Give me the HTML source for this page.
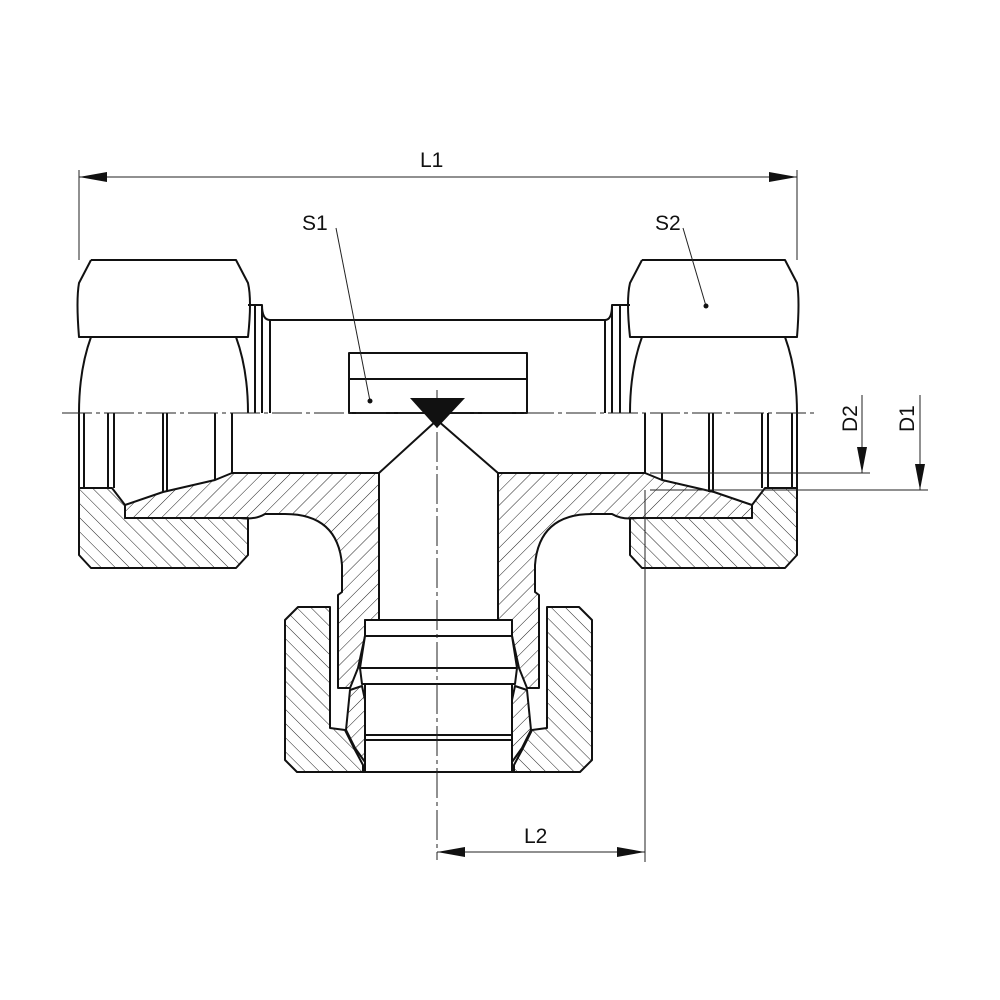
<!DOCTYPE html>
<html><head><meta charset="utf-8"><style>
html,body{margin:0;padding:0;background:#fff}
svg{display:block}
text{font-family:"Liberation Sans",sans-serif;font-size:21px;fill:#111}
</style></head><body>
<svg width="1000" height="1000" viewBox="0 0 1000 1000" xmlns="http://www.w3.org/2000/svg">
<defs>
<pattern id="hA" patternUnits="userSpaceOnUse" width="10" height="10" patternTransform="rotate(45)">
<line x1="0" y1="0" x2="0" y2="10" stroke="#222" stroke-width="1"/></pattern>
<pattern id="hB" patternUnits="userSpaceOnUse" width="10" height="10" patternTransform="rotate(-45)">
<line x1="0" y1="0" x2="0" y2="10" stroke="#222" stroke-width="1"/></pattern>
</defs>
<g fill="none" stroke="#111" stroke-width="2" stroke-linejoin="round">
<!-- body upper -->
<path d="M270 320 L605 320 M605 320 Q612 320 612 305 L630 305 M270 320 Q262 320 262 305 L248 305"/>
<line x1="262" y1="305" x2="262" y2="413"/><line x1="270" y1="320" x2="270" y2="413"/>
<line x1="255" y1="305" x2="255" y2="413"/>
<line x1="612" y1="305" x2="612" y2="413"/><line x1="605" y1="320" x2="605" y2="413"/>
<line x1="620" y1="305" x2="620" y2="413"/>
<rect x="349" y="353" width="178" height="60"/><line x1="349" y1="379" x2="527" y2="379"/>
<!-- left nut upper -->
<path d="M91 260 L236 260 L248 283 Q252 300 248 337 L236 337 M91 260 L79 283 Q76 300 79 337 L91 337 L236 337 M91 337 Q79 370 79 413 M236 337 Q248 370 248 413"/>
<!-- right nut upper -->
<path d="M642 260 L785 260 L797 283 Q800 300 797 337 L785 337 M642 260 L630 283 Q626 300 630 337 L642 337 L785 337 M642 337 Q630 370 630 413 M785 337 Q797 370 797 413"/>
<!-- left lower: nut -->
<path d="M79 488 L112 488 L125 505 L125 518 L248 518 L248 555 L236 568 L91 568 L79 555 Z" fill="url(#hB)"/>
<path d="M79 413 L79 488 M84 413 L84 488 M108 413 L108 488 M114 413 L114 488 M163 413 L163 492 M167 413 L167 492 M215 413 L215 480 M232 413 L232 473"/>
<!-- right nut lower -->
<path d="M797 488 L765 488 L752 505 L752 518 L630 518 L630 555 L642 568 L785 568 L797 555 Z" fill="url(#hB)"/>
<path d="M797 413 L797 488 M792 413 L792 488 M768 413 L768 488 M762 413 L762 488 M713 413 L713 492 M709 413 L709 492 M662 413 L662 480 M645 413 L645 473"/>
<!-- body left -->
<path d="M125 505 L163 492 L215 480 L232 473 L379 473 L379 620 L365 620 L365 636 L358 668 L350 688 L338 688 L338 595 L342 592 L342 565 Q338 514 285 514 L265 514 Q255 520 240 518 L125 518 Z" fill="url(#hA)"/>
<!-- body right -->
<path d="M752 505 L714 492 L662 480 L645 473 L498 473 L498 620 L512 620 L512 636 L519 668 L527 688 L539 688 L539 595 L535 592 L535 565 Q539 514 592 514 L612 514 Q622 520 637 518 L752 518 Z" fill="url(#hA)"/>
<path d="M379 473 L437 420 L498 473"/>
<!-- bottom nut -->
<path d="M298 607 L330 607 L330 728 L345 730 L355 750 L363 765 L363 772 L297 772 L285 760 L285 620 Z" fill="url(#hB)"/>
<path d="M579 607 L547 607 L547 728 L532 730 L522 750 L514 765 L514 772 L580 772 L592 760 L592 620 Z" fill="url(#hB)"/>
<!-- cutting ring -->
<path d="M350 690 L362 686 L365 700 L365 762 L355 748 L346 730 Z" fill="url(#hA)"/>
<path d="M527 690 L515 686 L512 700 L512 762 L522 748 L531 730 Z" fill="url(#hA)"/>
<!-- insert -->
<path d="M365 620 L512 620 L512 636 L365 636 Z M365 636 L360 668 L517 668 L512 636 M360 668 L362 684 L515 684 L517 668 M365 684 L365 772 M512 684 L512 772 M365 735 L512 735 M365 740 L512 740 M363 772 L514 772" fill="#fff"/>
</g>
<!-- center lines -->
<g stroke="#222" stroke-width="1" fill="none">
<line x1="62" y1="413" x2="815" y2="413" stroke-dasharray="30 4 4 4"/>
<line x1="437" y1="390" x2="437" y2="860" stroke-dasharray="30 4 4 4"/>
<line x1="79" y1="170" x2="79" y2="260"/><line x1="797" y1="170" x2="797" y2="260"/>
<line x1="79" y1="177" x2="797" y2="177"/>
<line x1="645" y1="490" x2="645" y2="862"/>
<line x1="437" y1="852" x2="645" y2="852"/>
<line x1="650" y1="473" x2="870" y2="473"/><line x1="650" y1="490" x2="928" y2="490"/>
<line x1="862" y1="395" x2="862" y2="473"/><line x1="920" y1="395" x2="920" y2="490"/>
<line x1="336" y1="228" x2="370" y2="401"/><line x1="683" y1="228" x2="706" y2="306"/>
</g>
<g fill="#111">
<path d="M79 177 L107 172 L107 182 Z"/><path d="M797 177 L769 172 L769 182 Z"/>
<path d="M437 852 L465 847 L465 857 Z"/><path d="M645 852 L617 847 L617 857 Z"/>
<path d="M862 473 L857 447 L867 447 Z"/><path d="M920 490 L915 464 L925 464 Z"/>
<circle cx="370" cy="401" r="2.5"/><circle cx="706" cy="306" r="2.5"/>
<path d="M410 398 L465 398 L437 428 Z"/>
</g>
<text x="420" y="167">L1</text>
<text x="302" y="230">S1</text>
<text x="655" y="230">S2</text>
<text x="524" y="843">L2</text>
<text transform="translate(857,432) rotate(-90)">D2</text>
<text transform="translate(914,432) rotate(-90)">D1</text>
</svg>
</body></html>
